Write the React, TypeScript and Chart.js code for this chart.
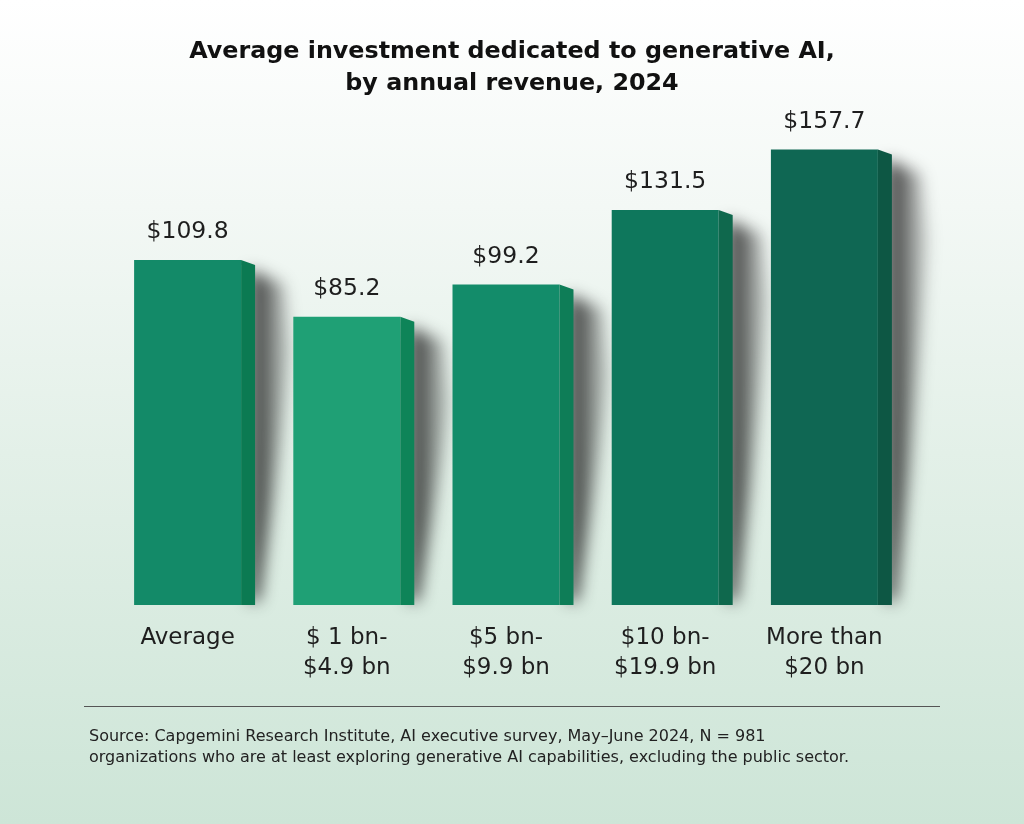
import React, { useEffect, useRef } from "react";
import { Chart, registerables } from "chart.js";

Chart.register(...registerables);

const categories: string[][] = [
  ["Average"],
  ["$ 1 bn-", "$4.9 bn"],
  ["$5 bn-", "$9.9 bn"],
  ["$10 bn-", "$19.9 bn"],
  ["More than", "$20 bn"],
];
const values: number[] = [109.8, 85.2, 99.2, 131.5, 157.7];
const valueLabels: string[] = ["$109.8", "$85.2", "$99.2", "$131.5", "$157.7"];
const frontColors: string[] = ["#138a68", "#1fa075", "#138c6a", "#0e775c", "#0f6753"];
const sideColors: string[] = ["#0b7a52", "#0e8458", "#0e7d57", "#0f684d", "#0d5744"];
const titleLines: string[] = [
  "Average investment dedicated to generative AI,",
  "by annual revenue, 2024",
];
const sourceLines: string[] = [
  "Source: Capgemini Research Institute, AI executive survey, May\u2013June 2024, N = 981",
  "organizations who are at least exploring generative AI capabilities, excluding the public sector.",
];
const Y_MIN = -39.7;
const Y_MAX = 166.2;

const FONT = "'DejaVu Sans', 'Open Sans', sans-serif";
const SIDE_W = 14;
const SIDE_DROP = 5;

const barDecorPlugin = {
  id: "barDecor",
  beforeDatasetsDraw(chart: any) {
    const ctx = chart.ctx;
    const meta = chart.getDatasetMeta(0);
    meta.data.forEach((bar: any) => {
      const p = bar.getProps(["x", "y", "base", "width"], true);
      const right = p.x + p.width / 2 + SIDE_W;
      const h = p.base - p.y;
      ctx.save();
      ctx.filter = "blur(8px)";
      const g = ctx.createLinearGradient(right, 0, right + 42, 0);
      g.addColorStop(0, "rgba(20,20,20,0.8)");
      g.addColorStop(0.45, "rgba(20,20,20,0.45)");
      g.addColorStop(1, "rgba(20,20,20,0)");
      ctx.fillStyle = g;
      ctx.beginPath();
      ctx.moveTo(right - 6, p.y + 10);
      ctx.lineTo(right + 28, p.y + 24);
      ctx.lineTo(right + 36, p.y + Math.min(90, h * 0.3));
      ctx.lineTo(right + 18, p.y + h * 0.7);
      ctx.lineTo(right + 4, p.base - 4);
      ctx.lineTo(right - 6, p.base - 4);
      ctx.closePath();
      ctx.fill();
      ctx.restore();
    });
  },
  afterDatasetsDraw(chart: any) {
    const ctx = chart.ctx;
    const meta = chart.getDatasetMeta(0);
    meta.data.forEach((bar: any, i: number) => {
      const p = bar.getProps(["x", "y", "base", "width"], true);
      const r = p.x + p.width / 2;
      ctx.save();
      ctx.fillStyle = sideColors[i];
      ctx.beginPath();
      ctx.moveTo(r, p.y);
      ctx.lineTo(r + SIDE_W, p.y + SIDE_DROP);
      ctx.lineTo(r + SIDE_W, p.base);
      ctx.lineTo(r, p.base);
      ctx.closePath();
      ctx.fill();
      ctx.fillStyle = "#1e1e1e";
      ctx.font = `400 23.5px ${FONT}`;
      ctx.textAlign = "center";
      ctx.textBaseline = "middle";
      ctx.fillText(valueLabels[i], p.x, p.y - 28);
      ctx.restore();
    });
  },
  afterDraw(chart: any) {
    const ctx = chart.ctx;
    ctx.save();
    ctx.strokeStyle = "#555555";
    ctx.lineWidth = 1;
    ctx.beginPath();
    ctx.moveTo(84, 706.5);
    ctx.lineTo(940, 706.5);
    ctx.stroke();
    ctx.restore();
  },
};

export default function App() {
  const ref = useRef<HTMLCanvasElement | null>(null);

  useEffect(() => {
    document.body.style.margin = "0";
    if (!ref.current) return;
    const chart = new Chart(ref.current, {
      type: "bar",
      data: {
        labels: categories,
        datasets: [
          {
            data: values,
            backgroundColor: frontColors,
            borderWidth: 0,
            base: Y_MIN,
            barPercentage: 1,
            categoryPercentage: 0.672,
          } as any,
        ],
      },
      options: {
        animation: false,
        responsive: false,
        devicePixelRatio: 1,
        layout: { padding: { left: 89, right: 89, top: 0, bottom: 0 } },
        scales: {
          x: {
            grid: { display: false, drawTicks: false },
            border: { display: false },
            ticks: {
              padding: 18,
              color: "#1e1e1e",
              font: { family: FONT, size: 23, lineHeight: 30 / 23 },
              maxRotation: 0,
              autoSkip: false,
            },
          },
          y: {
            min: Y_MIN,
            max: Y_MAX,
            display: true,
            position: "left",
            grid: { display: false, drawTicks: false },
            border: { display: false },
            ticks: { display: false },
            afterFit: (s: any) => {
              s.width = 19;
            },
          },
          y2: {
            min: Y_MIN,
            max: Y_MAX,
            display: true,
            position: "right",
            grid: { display: false, drawTicks: false },
            border: { display: false },
            ticks: { display: false },
            afterFit: (s: any) => {
              s.width = 31;
            },
          },
        },
        plugins: {
          legend: { display: false },
          tooltip: { enabled: false },
          title: {
            display: true,
            text: titleLines,
            color: "#111111",
            font: { family: FONT, size: 23.8, weight: "bold", lineHeight: 32 / 23.8 },
            padding: { top: 36, bottom: 30 },
          },
          subtitle: {
            display: true,
            position: "bottom",
            align: "start",
            text: sourceLines,
            color: "#222222",
            font: { family: FONT, size: 16, weight: "400", lineHeight: 21 / 16 },
            padding: { top: 25.6, bottom: 55.4 },
          },
        },
      },
      plugins: [barDecorPlugin],
    });
    return () => chart.destroy();
  }, []);

  return (
    <div
      style={{
        width: 1024,
        height: 824,
        background:
          "linear-gradient(to bottom, #ffffff 0%, #f3f8f5 25%, #e3f0e8 55%, #cde5d7 100%)",
      }}
    >
      <canvas ref={ref} width={1024} height={824} style={{ display: "block" }} />
    </div>
  );
}
